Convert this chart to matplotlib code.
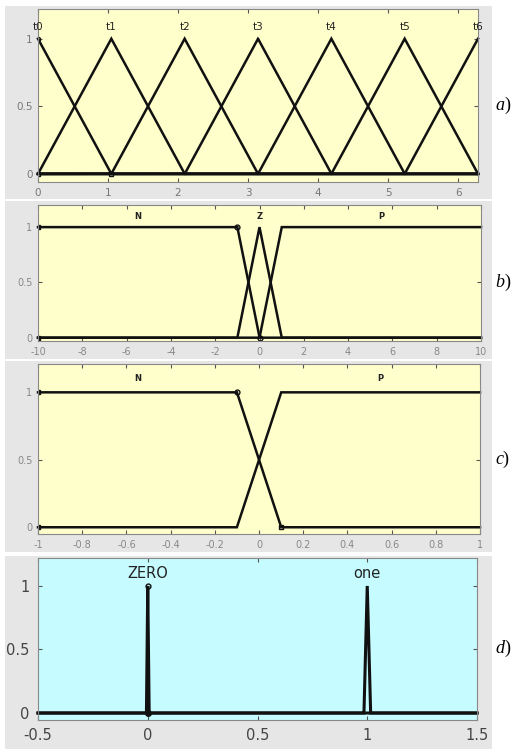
import numpy as np
import matplotlib
matplotlib.use("Agg")
import matplotlib.pyplot as plt
from matplotlib.patches import Rectangle

plt.rcParams['font.family'] = ['DejaVu Sans']
plt.rcParams['mathtext.fontset'] = 'custom'
plt.rcParams['mathtext.it'] = 'Liberation Serif:italic'
plt.rcParams['mathtext.rm'] = 'Liberation Serif'

# ---- data ----
# panel a: triangular MFs t0..t6 on [0, 2*pi]
a_names = ["t0", "t1", "t2", "t3", "t4", "t5", "t6"]
a_centers = [0.0, 1.047, 2.094, 3.142, 4.189, 5.236, 6.283]
a_xlim = (0, 6.283)
a_xticks = [0, 1, 2, 3, 4, 5, 6]

# panel b: N, Z, P on [-10, 10]
b_names = ["N", "Z", "P"]
b_params = [[-10, -10, -1, 0], [-1, 0, 0, 1], [0, 1, 10, 10]]
b_xlim = (-10, 10)
b_xticks = [-10, -8, -6, -4, -2, 0, 2, 4, 6, 8, 10]
b_label_x = [-5.5, 0, 5.5]

# panel c: N, P on [-1, 1]
c_names = ["N", "P"]
c_params = [[-1, -1, -0.1, 0.1], [-0.1, 0.1, 1, 1]]
c_xlim = (-1, 1)
c_xticks = [-1, -0.8, -0.6, -0.4, -0.2, 0, 0.2, 0.4, 0.6, 0.8, 1]
c_xticklabels = ["-1", "-0.8", "-0.6", "-0.4", "-0.2", "0", "0.2", "0.4", "0.6", "0.8", "1"]
c_label_x = [-0.55, 0.55]

# panel d: ZERO, one on [-0.5, 1.5]
d_names = ["ZERO", "one"]
d_params = [[-0.006, 0, 0, 0.006], [0.985, 1, 1, 1.015]]
d_xlim = (-0.5, 1.5)
d_xticks = [-0.5, 0, 0.5, 1, 1.5]
d_xticklabels = ["-0.5", "0", "0.5", "1", "1.5"]

W, H = 515, 749
fig = plt.figure(figsize=(W / 100, H / 100), dpi=100)
fig.patch.set_facecolor("white")

def px(l, t, r, b):
    return [l / W, 1 - b / H, (r - l) / W, (b - t) / H]

# grey panel backgrounds
for (t, b) in [(6, 199), (201, 359), (361, 552), (556, 749)]:
    fig.patches.append(Rectangle((5 / W, 1 - b / H), (492 - 5) / W, (b - t) / H,
                                 transform=fig.transFigure, facecolor="#e6e6e6",
                                 edgecolor="none", zorder=-10))

YEL = "#ffffcc"
CYAN = "#c6fcff"

def trapmf(x, p):
    a, b, c, d = p
    y = np.zeros_like(x)
    with np.errstate(divide="ignore", invalid="ignore"):
        up = np.where(b > a, (x - a) / (b - a if b > a else 1), 1.0)
        dn = np.where(d > c, (d - x) / (d - c if d > c else 1), 1.0)
    y = np.minimum(np.minimum(up, 1.0), dn)
    y = np.clip(y, 0, 1)
    y[(x < a) | (x > d)] = 0
    return y

def style(ax, xlim, ylim, xticks, xticklabels, fc, fs, tc):
    ax.set_facecolor(fc)
    ax.set_xlim(*xlim)
    ax.set_ylim(*ylim)
    ax.set_xticks(xticks)
    ax.set_xticklabels(xticklabels, fontsize=fs, color=tc)
    ax.set_yticks([0, 0.5, 1])
    ax.set_yticklabels(["0", "0.5", "1"], fontsize=fs, color=tc)
    ax.tick_params(direction="in", length=3, top=True, right=True, width=0.8,
                   color="#555555", pad=4)
    for s in ax.spines.values():
        s.set_color("#888888")
        s.set_linewidth(0.8)

def plot_mfs(ax, params, xlim, lw=1.8):
    x = np.linspace(xlim[0], xlim[1], 4001)
    xs = np.unique(np.concatenate([x, np.array(params).ravel()]))
    xs = xs[(xs >= xlim[0]) & (xs <= xlim[1])]
    for p in params:
        ax.plot(xs, trapmf(xs, p), color="#111111", lw=lw, solid_joinstyle="miter",
                clip_on=False)

# ---- panel a ----
ax = fig.add_axes(px(38, 9, 478, 182))
style(ax, a_xlim, (-0.06, 1.22), a_xticks, [str(v) for v in a_xticks], YEL, 7.5, "#777777")
step = a_centers[1] - a_centers[0]
a_params = [[c - step, c, c, c + step] for c in a_centers]
plot_mfs(ax, a_params, a_xlim)
for n, c in zip(a_names, a_centers):
    ax.text(c, 1.09, n, ha="center", va="center", fontsize=7.5, color="#222222")
ax.plot([0], [1], marker="o", ms=3, mfc="none", mec="#111111", mew=1)
ax.plot([0, a_centers[1]], [0, 0], ls="none", marker="s", ms=2.5, mfc="none",
        mec="#111111", mew=1)
fig.text(503 / W, 1 - 105 / H, r"$a)$", fontsize=13, ha="center", va="center")

# ---- panel b ----
ax = fig.add_axes(px(38, 205, 481, 341))
style(ax, b_xlim, (-0.03, 1.2), b_xticks, [str(v) for v in b_xticks], YEL, 7, "#888888")
plot_mfs(ax, b_params, b_xlim)
for n, xx in zip(b_names, b_label_x):
    ax.text(xx, 1.1, n, ha="center", va="center", fontsize=6, fontweight="bold",
            color="#222222")
ax.plot([-10, -10], [0, 1], ls="none", marker="s", ms=2.5, mfc="#111111", mec="#111111")
ax.plot([-1, 0], [1, 0], ls="none", marker="o", ms=3.5, mfc="none", mec="#111111", mew=1)
fig.text(503 / W, 1 - 282 / H, r"$b)$", fontsize=13, ha="center", va="center")

# ---- panel c ----
ax = fig.add_axes(px(38, 364, 480, 534))
style(ax, c_xlim, (-0.05, 1.21), c_xticks, c_xticklabels, YEL, 7, "#888888")
plot_mfs(ax, c_params, c_xlim)
for n, xx in zip(c_names, c_label_x):
    ax.text(xx, 1.1, n, ha="center", va="center", fontsize=6, fontweight="bold",
            color="#222222")
ax.plot([-1, -1], [0, 1], ls="none", marker="s", ms=2.5, mfc="#111111", mec="#111111")
ax.plot([-0.1], [1], ls="none", marker="o", ms=3.5, mfc="none", mec="#111111", mew=1)
ax.plot([0.1], [0], ls="none", marker="s", ms=3, mfc="none", mec="#111111", mew=1)
fig.text(503 / W, 1 - 459 / H, r"$c)$", fontsize=13, ha="center", va="center")

# ---- panel d ----
ax = fig.add_axes(px(38, 558, 477, 720))
style(ax, d_xlim, (-0.055, 1.22), d_xticks, d_xticklabels, CYAN, 10.5, "#444444")
ax.tick_params(pad=6)
plot_mfs(ax, d_params, d_xlim, lw=2.2)
for n, p in zip(d_names, d_params):
    ax.text(p[1], 1.1, n, ha="center", va="center", fontsize=10.5, color="#222222")
ax.plot([0], [1], marker="o", ms=3.5, mfc="none", mec="#111111", mew=1)
ax.plot([0], [0], marker="o", ms=4, mfc="#111111", mec="#111111")
fig.text(503 / W, 1 - 648 / H, r"$d)$", fontsize=13, ha="center", va="center")

fig.savefig("out.png", dpi=100)
